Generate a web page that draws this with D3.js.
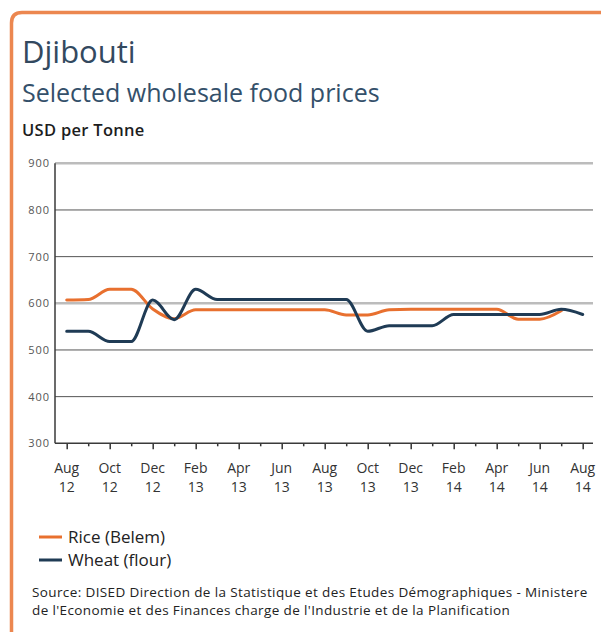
<!DOCTYPE html>
<html>
<head>
<meta charset="utf-8">
<script src="https://cdn.jsdelivr.net/npm/d3@7"></script>
<style>
  body { margin: 0; background: #ffffff; }
  svg { display: block; font-family: "Open Sans", "Noto Sans", sans-serif; }
</style>
</head>
<body>
<svg id="chart" width="601" height="632"></svg>
<script>
// Monthly wholesale prices, USD per tonne
const months = [
  "Aug 12","Sep 12","Oct 12","Nov 12","Dec 12","Jan 13","Feb 13","Mar 13","Apr 13",
  "May 13","Jun 13","Jul 13","Aug 13","Sep 13","Oct 13","Nov 13","Dec 13","Jan 14",
  "Feb 14","Mar 14","Apr 14","May 14","Jun 14","Jul 14","Aug 14"
];
const labelledMonths = months.filter((m, i) => i % 2 === 0);
const rice  = [607, 608, 630, 630, 588, 567, 586, 586, 586, 586, 586, 586, 586,
               575, 575, 586, 587, 587, 587, 587, 587, 566, 566, 584, null];
const wheat = [540, 540, 518, 518, 607, 565, 630, 608, 608, 608, 608, 608, 608,
               608, 540, 552, 552, 552, 576, 576, 576, 576, 576, 587, 576];
const yTicks = [300, 400, 500, 600, 700, 800, 900];
const seriesNames = ["Rice (Belem)", "Wheat (flour)"];
const seriesColors = ["#e8702f", "#1f3b55"];
const series = [rice, wheat];

const svg = d3.select("#chart");

// Frame: orange top and left edge with a rounded corner
svg.append("path")
  .attr("d", "M11.5,632 V23 Q11.5,12.5 22,12.5 H601")
  .attr("fill", "none")
  .attr("stroke", "#ec8750")
  .attr("stroke-width", 3.5);

// Titles
svg.append("text").attr("x", 22).attr("y", 63)
  .attr("font-size", 31).attr("fill", "#33495f").text("Djibouti");
svg.append("text").attr("x", 22).attr("y", 102)
  .attr("font-size", 25).attr("fill", "#34506a").text("Selected wholesale food prices");
svg.append("text").attr("x", 22).attr("y", 136)
  .attr("font-size", 16.5).attr("font-weight", 600).attr("letter-spacing", 0.3)
  .attr("fill", "#1d1d1d").text("USD per Tonne");

// Scales
const plotLeft = 55, plotRight = 593;
const x = d3.scalePoint().domain(months).range([66.7, 582.7]);
const y = d3.scaleLinear().domain([300, 900]).range([443.3, 163.3]);

// Horizontal gridlines
const grid = svg.append("g");
grid.selectAll("line").data(yTicks.filter(v => v !== 300)).join("line")
  .attr("x1", plotLeft).attr("x2", plotRight)
  .attr("y1", d => y(d)).attr("y2", d => y(d))
  .attr("stroke", d => (d === 900 || d === 600) ? "#bcbcbc" : "#555555")
  .attr("stroke-width", d => (d === 900 || d === 600) ? 2.5 : 1);

// Y axis labels
const yAxis = svg.append("g").attr("transform", `translate(${plotLeft - 3},0)`)
  .call(d3.axisLeft(y).tickValues(yTicks).tickSize(0).tickPadding(2));
yAxis.select(".domain").remove();
yAxis.selectAll("text")
  .attr("font-size", 11).attr("fill", "#555").attr("letter-spacing", 1)
  .attr("font-family", "\"Open Sans\", sans-serif");

// Left axis line
svg.append("line")
  .attr("x1", plotLeft).attr("x2", plotLeft)
  .attr("y1", y(900)).attr("y2", y(300))
  .attr("stroke", "#3a3a3a").attr("stroke-width", 1.5);

// Bottom axis with major/minor ticks
const xAxis = svg.append("g").attr("transform", `translate(0,${y(300)})`)
  .call(d3.axisBottom(x).tickSize(6).tickFormat(""));
xAxis.select(".domain").remove();
xAxis.selectAll(".tick line")
  .attr("stroke", "#333").attr("stroke-width", 1.5)
  .attr("y2", (d, i) => i % 2 === 0 ? 6 : 3);
svg.append("line")
  .attr("x1", plotLeft).attr("x2", plotRight)
  .attr("y1", y(300)).attr("y2", y(300))
  .attr("stroke", "#3a3a3a").attr("stroke-width", 1.5);

// Two-line month labels
const xl = svg.append("g").attr("font-size", 14).attr("fill", "#333")
  .attr("text-anchor", "middle");
xl.selectAll("text").data(labelledMonths).join("text")
  .attr("x", d => x(d)).attr("y", 473)
  .each(function (d) {
    const [mon, yr] = d.split(" ");
    const t = d3.select(this);
    t.append("tspan").attr("x", x(d)).attr("dy", 0).text(mon);
    t.append("tspan").attr("x", x(d)).attr("dy", 19).text(yr);
  });

// Price lines
const line = d3.line()
  .defined(v => v !== null)
  .x((v, i) => x(months[i]))
  .y(v => y(v))
  .curve(d3.curveMonotoneX);

svg.append("g").selectAll("path").data(series).join("path")
  .attr("d", d => line(d))
  .attr("fill", "none")
  .attr("stroke", (d, i) => seriesColors[i])
  .attr("stroke-width", 3)
  .attr("stroke-linejoin", "round")
  .attr("stroke-linecap", "round");

// Legend
const legend = svg.append("g");
seriesNames.forEach((name, i) => {
  const ly = 537 + i * 23;
  legend.append("line")
    .attr("x1", 39).attr("x2", 62).attr("y1", ly).attr("y2", ly)
    .attr("stroke", seriesColors[i]).attr("stroke-width", 3);
  legend.append("text")
    .attr("x", 68).attr("y", ly + 5.5)
    .attr("font-size", 17).attr("fill", "#222").text(name);
});

// Source note
const src = svg.append("text").attr("x", 32).attr("y", 597)
  .attr("font-size", 13.5).attr("letter-spacing", 0.38).attr("fill", "#222");
src.append("tspan").attr("x", 32).attr("dy", 0)
  .text("Source: DISED Direction de la Statistique et des Etudes Démographiques - Ministere");
src.append("tspan").attr("x", 32).attr("dy", 18)
  .text("de l'Economie et des Finances charge de l'Industrie et de la Planification");
</script>
</body>
</html>
